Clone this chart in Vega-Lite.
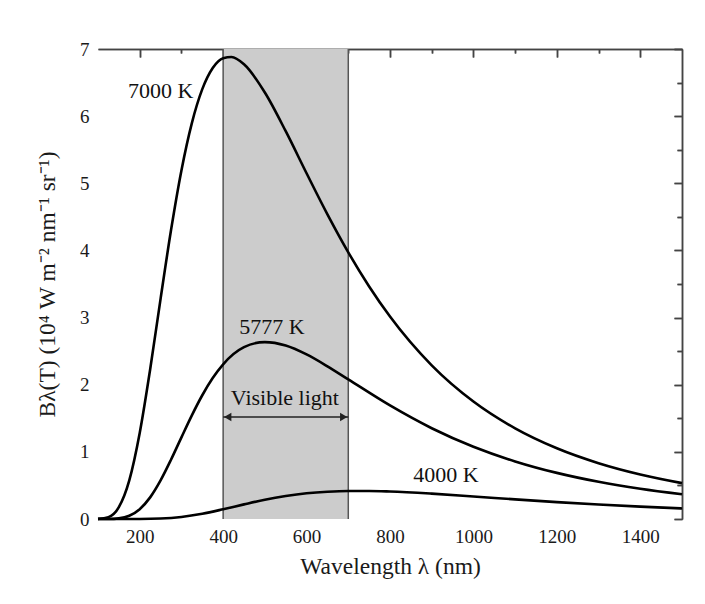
{
  "$schema": "https://vega.github.io/schema/vega-lite/v6.json",
  "width": 584,
  "height": 470,
  "autosize": "none",
  "padding": {"left": 98, "top": 49, "right": 23, "bottom": 85},
  "background": "white",
  "config": {
    "view": {"stroke": null},
    "font": "Liberation Serif",
    "axis": {"grid": false, "labelFont": "Liberation Serif", "titleFont": "Liberation Serif", "labelFontSize": 19, "titleFontSize": 23.5, "titleFontWeight": "normal", "labelColor": "#1a1a1a", "titleColor": "#1a1a1a", "zindex": 1, "domainColor": "#444", "domainWidth": 1.5, "tickColor": "#444", "tickWidth": 1.5}
  },
  "datasets": {
    "curves": [
      {"T": "7000 K", "wl": 100, "B": 0.0014},
      {"T": "7000 K", "wl": 125, "B": 0.028},
      {"T": "7000 K", "wl": 150, "B": 0.176},
      {"T": "7000 K", "wl": 175, "B": 0.575},
      {"T": "7000 K", "wl": 200, "B": 1.281},
      {"T": "7000 K", "wl": 225, "B": 2.227},
      {"T": "7000 K", "wl": 250, "B": 3.279},
      {"T": "7000 K", "wl": 275, "B": 4.300},
      {"T": "7000 K", "wl": 300, "B": 5.192},
      {"T": "7000 K", "wl": 325, "B": 5.897},
      {"T": "7000 K", "wl": 350, "B": 6.402},
      {"T": "7000 K", "wl": 375, "B": 6.717},
      {"T": "7000 K", "wl": 400, "B": 6.863},
      {"T": "7000 K", "wl": 420, "B": 6.880},
      {"T": "7000 K", "wl": 450, "B": 6.772},
      {"T": "7000 K", "wl": 500, "B": 6.352},
      {"T": "7000 K", "wl": 550, "B": 5.776},
      {"T": "7000 K", "wl": 600, "B": 5.149},
      {"T": "7000 K", "wl": 650, "B": 4.537},
      {"T": "7000 K", "wl": 700, "B": 3.971},
      {"T": "7000 K", "wl": 750, "B": 3.463},
      {"T": "7000 K", "wl": 800, "B": 3.015},
      {"T": "7000 K", "wl": 900, "B": 2.288},
      {"T": "7000 K", "wl": 1000, "B": 1.749},
      {"T": "7000 K", "wl": 1100, "B": 1.350},
      {"T": "7000 K", "wl": 1200, "B": 1.053},
      {"T": "7000 K", "wl": 1300, "B": 0.831},
      {"T": "7000 K", "wl": 1400, "B": 0.663},
      {"T": "7000 K", "wl": 1500, "B": 0.534},
      {"T": "5777 K", "wl": 100, "B": 0.0},
      {"T": "5777 K", "wl": 125, "B": 0.0009},
      {"T": "5777 K", "wl": 150, "B": 0.0097},
      {"T": "5777 K", "wl": 175, "B": 0.048},
      {"T": "5777 K", "wl": 200, "B": 0.146},
      {"T": "5777 K", "wl": 225, "B": 0.322},
      {"T": "5777 K", "wl": 250, "B": 0.575},
      {"T": "5777 K", "wl": 275, "B": 0.883},
      {"T": "5777 K", "wl": 300, "B": 1.216},
      {"T": "5777 K", "wl": 325, "B": 1.544},
      {"T": "5777 K", "wl": 350, "B": 1.843},
      {"T": "5777 K", "wl": 375, "B": 2.099},
      {"T": "5777 K", "wl": 400, "B": 2.304},
      {"T": "5777 K", "wl": 450, "B": 2.559},
      {"T": "5777 K", "wl": 500, "B": 2.635},
      {"T": "5777 K", "wl": 550, "B": 2.584},
      {"T": "5777 K", "wl": 600, "B": 2.451},
      {"T": "5777 K", "wl": 650, "B": 2.274},
      {"T": "5777 K", "wl": 700, "B": 2.079},
      {"T": "5777 K", "wl": 800, "B": 1.691},
      {"T": "5777 K", "wl": 900, "B": 1.352},
      {"T": "5777 K", "wl": 1000, "B": 1.076},
      {"T": "5777 K", "wl": 1100, "B": 0.858},
      {"T": "5777 K", "wl": 1200, "B": 0.687},
      {"T": "5777 K", "wl": 1300, "B": 0.554},
      {"T": "5777 K", "wl": 1400, "B": 0.450},
      {"T": "5777 K", "wl": 1500, "B": 0.368},
      {"T": "4000 K", "wl": 100, "B": 0.0},
      {"T": "4000 K", "wl": 150, "B": 0.0},
      {"T": "4000 K", "wl": 200, "B": 0.0006},
      {"T": "4000 K", "wl": 250, "B": 0.0069},
      {"T": "4000 K", "wl": 300, "B": 0.0304},
      {"T": "4000 K", "wl": 350, "B": 0.078},
      {"T": "4000 K", "wl": 400, "B": 0.145},
      {"T": "4000 K", "wl": 450, "B": 0.218},
      {"T": "4000 K", "wl": 500, "B": 0.287},
      {"T": "4000 K", "wl": 550, "B": 0.342},
      {"T": "4000 K", "wl": 600, "B": 0.383},
      {"T": "4000 K", "wl": 650, "B": 0.407},
      {"T": "4000 K", "wl": 700, "B": 0.418},
      {"T": "4000 K", "wl": 750, "B": 0.418},
      {"T": "4000 K", "wl": 800, "B": 0.410},
      {"T": "4000 K", "wl": 900, "B": 0.378},
      {"T": "4000 K", "wl": 1000, "B": 0.336},
      {"T": "4000 K", "wl": 1100, "B": 0.292},
      {"T": "4000 K", "wl": 1200, "B": 0.251},
      {"T": "4000 K", "wl": 1300, "B": 0.215},
      {"T": "4000 K", "wl": 1400, "B": 0.184},
      {"T": "4000 K", "wl": 1500, "B": 0.157}
    ],
    "band": [{"wl": 400, "wl2": 700, "B": 0, "B2": 7}],
    "edges": [{"wl": 400, "B": 0, "B2": 7}, {"wl": 700, "B": 0, "B2": 7}],
    "labels": [
      {"label": "7000 K", "wl": 250, "B": 6.37},
      {"label": "5777 K", "wl": 517, "B": 2.86},
      {"label": "4000 K", "wl": 934, "B": 0.66}
    ],
    "arrow": [{"wl": 400, "wl2": 700, "B": 1.52}],
    "heads": [{"dir": "left", "wl": 411, "B": 1.52}, {"dir": "right", "wl": 689, "B": 1.52}],
    "note": [{"label": "Visible light", "wl": 548, "B": 1.80}]
  },
  "layer": [
    {
      "data": {"name": "band"},
      "mark": {"type": "rect", "fill": "#cccccc", "stroke": null},
      "encoding": {
        "x": {"field": "wl", "type": "quantitative", "scale": {"domain": [100, 1500], "nice": false, "zero": false},
              "axis": {"values": [200, 400, 600, 800, 1000, 1200, 1400], "format": "d", "ticks": false, "domain": false, "labelPadding": 8, "title": "Wavelength λ (nm)", "titlePadding": 8}},
        "x2": {"field": "wl2"},
        "y": {"field": "B", "type": "quantitative", "scale": {"domain": [0, 7], "nice": false, "zero": true},
              "axis": {"values": [0, 1, 2, 3, 4, 5, 6, 7], "format": "d", "ticks": false, "domain": false, "labelPadding": 9, "title": "Bλ(T) (10⁴ W m⁻² nm⁻¹ sr⁻¹)", "titlePadding": 20}},
        "y2": {"field": "B2"}
      }
    },
    {
      "data": {"name": "edges"},
      "mark": {"type": "rule", "color": "#555555", "strokeWidth": 1.5},
      "encoding": {
        "x": {"field": "wl", "type": "quantitative", "scale": {"domain": [100, 1500], "nice": false, "zero": false},
              "axis": {"values": [200, 400, 600, 800, 1000, 1200, 1400], "labels": false, "tickSize": -8, "title": null}},
        "y": {"field": "B", "type": "quantitative", "scale": {"domain": [0, 7], "nice": false},
              "axis": {"values": [0, 1, 2, 3, 4, 5, 6, 7], "labels": false, "tickSize": -8, "title": null}},
        "y2": {"field": "B2"}
      }
    },
    {
      "data": {"name": "curves"},
      "mark": {"type": "line", "color": "black", "strokeWidth": 2.6, "interpolate": "monotone"},
      "encoding": {
        "x": {"field": "wl", "type": "quantitative", "scale": {"domain": [100, 1500], "nice": false, "zero": false},
              "axis": {"values": [300, 500, 700, 900, 1100, 1300], "labels": false, "domain": false, "tickSize": -4, "title": null}},
        "y": {"field": "B", "type": "quantitative", "scale": {"domain": [0, 7], "nice": false},
              "axis": {"values": [0.5, 1.5, 2.5, 3.5, 4.5, 5.5, 6.5], "labels": false, "domain": false, "tickSize": -5, "title": null}},
        "detail": {"field": "T"}
      }
    },
    {
      "data": {"name": "labels"},
      "mark": {"type": "text", "font": "Liberation Serif", "fontSize": 22, "color": "#111", "align": "center", "baseline": "middle"},
      "encoding": {
        "x": {"field": "wl", "type": "quantitative", "scale": {"domain": [100, 1500], "nice": false, "zero": false},
              "axis": {"orient": "top", "values": [200, 400, 600, 800, 1000, 1200, 1400], "labels": false, "tickSize": -8, "title": null}},
        "y": {"field": "B", "type": "quantitative", "scale": {"domain": [0, 7], "nice": false},
              "axis": {"orient": "right", "values": [0, 1, 2, 3, 4, 5, 6, 7], "labels": false, "tickSize": -8, "title": null}},
        "text": {"field": "label"}
      }
    },
    {
      "data": {"name": "arrow"},
      "mark": {"type": "rule", "color": "#222", "strokeWidth": 1.5},
      "encoding": {
        "x": {"field": "wl", "type": "quantitative", "scale": {"domain": [100, 1500], "nice": false, "zero": false},
              "axis": {"orient": "top", "values": [300, 500, 700, 900, 1100, 1300], "labels": false, "domain": false, "tickSize": -4, "title": null}},
        "x2": {"field": "wl2"},
        "y": {"field": "B", "type": "quantitative", "scale": {"domain": [0, 7], "nice": false},
              "axis": {"orient": "right", "values": [0.5, 1.5, 2.5, 3.5, 4.5, 5.5, 6.5], "labels": false, "domain": false, "tickSize": -5, "title": null}}
      }
    },
    {
      "data": {"name": "heads"},
      "mark": {"type": "point", "filled": true, "color": "#222", "opacity": 1, "size": 70},
      "encoding": {
        "x": {"field": "wl", "type": "quantitative", "scale": {"domain": [100, 1500], "nice": false, "zero": false}, "axis": null},
        "y": {"field": "B", "type": "quantitative", "scale": {"domain": [0, 7], "nice": false}, "axis": null},
        "shape": {"field": "dir", "type": "nominal", "scale": {"domain": ["left", "right"], "range": ["triangle-left", "triangle-right"]}, "legend": null}
      }
    },
    {
      "data": {"name": "note"},
      "mark": {"type": "text", "font": "Liberation Serif", "fontSize": 22, "color": "#111", "align": "center", "baseline": "middle"},
      "encoding": {
        "x": {"field": "wl", "type": "quantitative", "scale": {"domain": [100, 1500], "nice": false, "zero": false}, "axis": null},
        "y": {"field": "B", "type": "quantitative", "scale": {"domain": [0, 7], "nice": false}, "axis": null},
        "text": {"field": "label"}
      }
    }
  ],
  "resolve": {"axis": {"x": "independent", "y": "independent"}}
}
